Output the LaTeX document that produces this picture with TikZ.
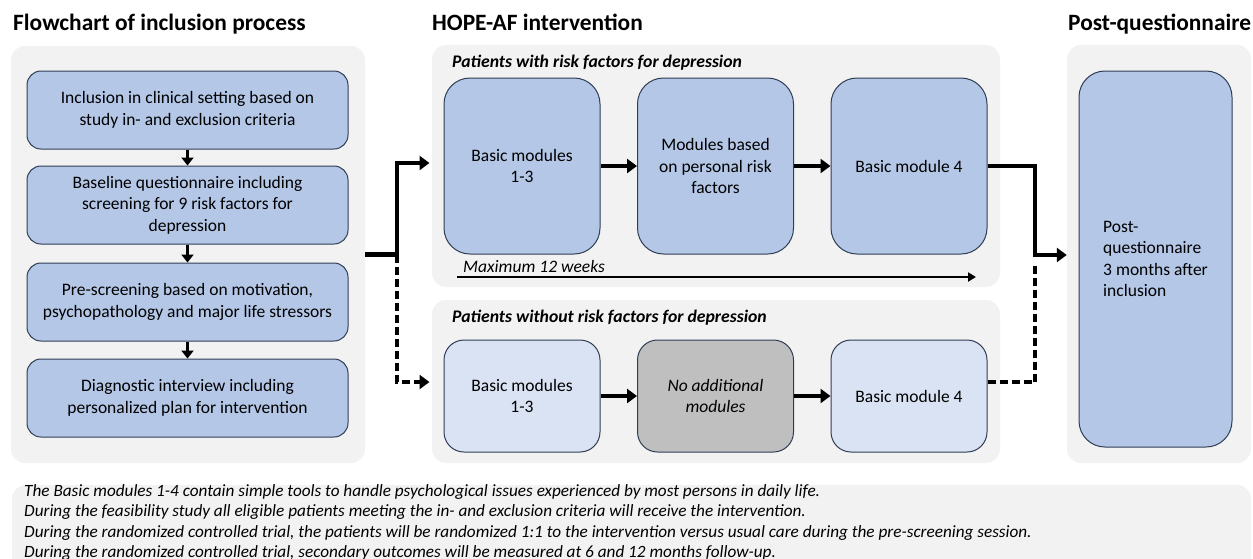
\documentclass[tikz,border=0pt]{standalone}
\usepackage{fontspec}
\setmainfont{Carlito}
\usetikzlibrary{arrows.meta}
\definecolor{panelgray}{HTML}{F2F2F2}
\definecolor{boxblue}{HTML}{B4C7E7}
\definecolor{paleblue}{HTML}{DAE3F3}
\definecolor{boxgray}{HTML}{BFBFBF}
\definecolor{edgeblue}{HTML}{2F3E55}
\tikzset{
  panel/.style={fill=panelgray, rounded corners=14pt, inner sep=0pt},
  stepbox/.style={draw=edgeblue, line width=1pt, fill=boxblue, rounded corners=14pt, align=center, inner sep=2pt, font=\fontsize{17.5}{21.5}\selectfont},
  tallbox/.style={stepbox, rounded corners=26pt, minimum width=156pt},
  heading/.style={anchor=base west, inner sep=0pt, font=\bfseries\fontsize{23.4}{28}\selectfont},
  grouplabel/.style={anchor=base west, inner sep=0pt, font=\bfseries\itshape\fontsize{17.7}{21}\selectfont},
  noteline/.style={anchor=base west, inner sep=0pt, font=\itshape\fontsize{17.2}{20}\selectfont},
  bigarrow/.style={line width=4.5pt, -{Triangle[length=10pt,width=14pt]}},
  smallarrow/.style={line width=3pt, -{Triangle[length=8pt,width=12pt]}},
  dashline/.style={dash pattern=on 8pt off 4pt}
}
\begin{document}
\begin{tikzpicture}
\useasboundingbox (0pt,0pt) rectangle (1253pt,-558pt);
\node[panel, minimum width=354pt, minimum height=417pt] (leftpanel) at (188pt,-254.5pt) {};
\node[panel, minimum width=568pt, minimum height=242pt] (riskpanel) at (716pt,-166pt) {};
\node[panel, minimum width=568pt, minimum height=163pt] (norpanel) at (716pt,-381.5pt) {};
\node[panel, minimum width=184pt, minimum height=418pt] (postpanel) at (1159pt,-254pt) {};
\node[panel, minimum width=1239pt, minimum height=115pt] (notepanel) at (631.5pt,-542.5pt) {};
\node[heading] (flowtitle) at (13pt,-30pt) {Flowchart of inclusion process};
\node[heading] (hopetitle) at (432pt,-30pt) {HOPE-AF intervention};
\node[heading] (posttitle) at (1068pt,-30pt) {Post-questionnaire};
\node[stepbox, minimum width=321pt, minimum height=78pt] (incl) at (187.5pt,-110pt) {Inclusion in clinical setting based on\\study in- and exclusion criteria};
\node[stepbox, minimum width=321pt, minimum height=78pt] (base) at (187.5pt,-205pt) {Baseline questionnaire including\\screening for 9 risk factors for\\depression};
\node[stepbox, minimum width=321pt, minimum height=78pt] (presc) at (187.5pt,-302pt) {Pre-screening based on motivation,\\psychopathology and major life stressors};
\node[stepbox, minimum width=321pt, minimum height=78pt] (diag) at (187.5pt,-398pt) {Diagnostic interview including\\personalized plan for intervention};
\node[grouplabel] (risklabel) at (452pt,-67pt) {Patients with risk factors for depression};
\node[tallbox, minimum height=176pt] (riskA) at (522pt,-166pt) {Basic modules\\1-3};
\node[tallbox, minimum height=176pt] (riskB) at (715.5pt,-166pt) {Modules based\\on personal risk\\factors};
\node[tallbox, minimum height=176pt] (riskC) at (909pt,-166pt) {Basic module 4};
\coordinate (wkstart) at (457pt,-277pt);
\coordinate (wkend) at (976pt,-277pt);
\node[anchor=base west, inner sep=0pt, font=\itshape\fontsize{17.5}{20}\selectfont] (weeks) at (463pt,-272pt) {Maximum 12 weeks};
\node[grouplabel] (norlabel) at (452pt,-322pt) {Patients without risk factors for depression};
\node[tallbox, fill=paleblue, rounded corners=20pt, minimum height=112pt] (norA) at (522pt,-396pt) {Basic modules\\1-3};
\node[tallbox, fill=boxgray, rounded corners=20pt, minimum height=112pt, font=\itshape\fontsize{17.5}{21.5}\selectfont] (norB) at (715.5pt,-396pt) {No additional\\modules};
\node[tallbox, fill=paleblue, rounded corners=20pt, minimum height=112pt] (norC) at (909pt,-396pt) {Basic module 4};
\node[stepbox, rounded corners=26pt, minimum width=153pt, minimum height=376pt, align=left] (post) at (1155.5pt,-259pt) {Post-\\questionnaire\\3 months after\\inclusion};
\node[noteline] (note1) at (24pt,-496pt) {The Basic modules 1-4 contain simple tools to handle psychological issues experienced by most persons in daily life.};
\node[noteline] (note2) at (24pt,-516.5pt) {During the feasibility study all eligible patients meeting the in- and exclusion criteria will receive the intervention.};
\node[noteline] (note3) at (24pt,-537pt) {During the randomized controlled trial, the patients will be randomized 1:1 to the intervention versus usual care during the pre-screening session.};
\node[noteline] (note4) at (24pt,-557.5pt) {During the randomized controlled trial, secondary outcomes will be measured at 6 and 12 months follow-up.};
\draw[smallarrow] (incl) -- (base);
\draw[smallarrow] (base) -- (presc);
\draw[smallarrow] (presc) -- (diag);
\coordinate (split) at (397pt,-254.5pt);
\draw[bigarrow, shorten >=14pt] (leftpanel.east) -- (split) |- ([yshift=3pt]riskA.west);
\draw[bigarrow, dashline, shorten >=14pt] (split) |- ([yshift=14pt]norA.west);
\draw[bigarrow] (riskA) -- (riskB);
\draw[bigarrow] (riskB) -- (riskC);
\draw[bigarrow] (norA) -- (norB);
\draw[bigarrow] (norB) -- (norC);
\draw[line width=2.5pt, -{Triangle[length=8pt,width=9pt]}] (wkstart) -- (wkend);
\coordinate (join) at (1035pt,-255pt);
\draw[bigarrow] (riskC.east) -| (join) -- (join -| postpanel.west);
\draw[line width=4.5pt, dashline] ([yshift=14pt]norC.east) -| ([yshift=-8pt]join);
\end{tikzpicture}
\end{document}
